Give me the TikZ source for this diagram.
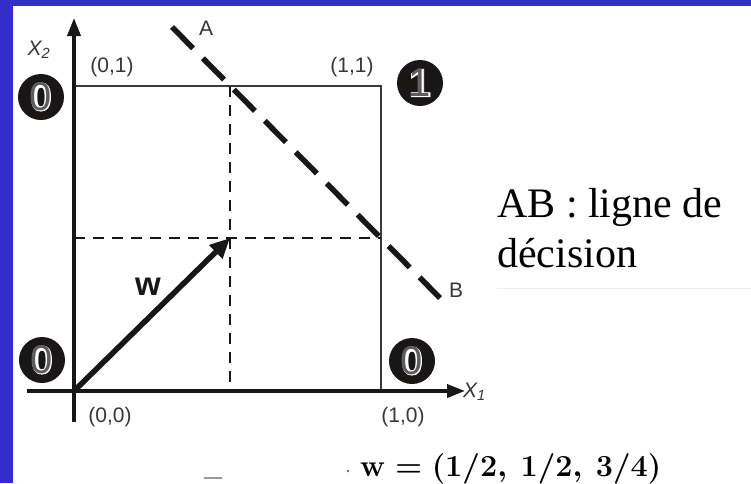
\documentclass[tikz,border=0pt]{standalone}
\usepackage[no-math]{fontspec}
\setmainfont{Liberation Serif}
\newfontfamily\arialf{Liberation Sans}
\newfontfamily\arialout[FakeBold=2]{Liberation Sans}
\usetikzlibrary{arrows.meta}
\definecolor{bandblue}{RGB}{51,45,204}
\definecolor{labgray}{RGB}{55,55,55}
\definecolor{inkblack}{RGB}{25,22,22}
\tikzset{
  axis/.style={line width=3.6pt, color=inkblack, -{Triangle[length=18pt,width=13pt]}},
  sqline/.style={line width=1.7pt, color=inkblack!85},
  dsh/.style={line width=2.4pt, color=inkblack, dash pattern=on 11pt off 8pt},
  abline/.style={line width=5.5pt, color=inkblack, dash pattern=on 30pt off 14pt},
  vec/.style={line width=5.5pt, color=inkblack, -{Triangle[length=20pt,width=18pt]}},
  coordlab/.style={font=\arialf\fontsize{21}{21}\selectfont, text=labgray, inner sep=0pt},
  axlab/.style={font=\arialf\itshape\fontsize{21}{21}\selectfont, text=labgray, inner sep=0pt},
  circbg/.style={circle, fill=inkblack, minimum size=46pt, inner sep=0pt},
  digw/.style={font=\arialout\bfseries\fontsize{40}{40}\selectfont, text=white, inner sep=0pt},
  digb/.style={font=\arialf\fontsize{40}{40}\selectfont, text=inkblack!70, inner sep=0pt},
  formula/.style={font=\fontsize{24.88}{30}\selectfont\mathversion{bold}, inner sep=0pt},
}
\newcommand{\circdig}[3]{%
  \node[circbg] (#1) at (#2) {};
  \node[digw] (#1w) at (#1.center) {#3};
  \node[digb] (#1b) at (#1.center) {#3};
}
\begin{document}
\begin{tikzpicture}[x=1pt,y=-1pt]
\fill[bandblue] (0,0) rectangle (751,483);
\fill[white] (13,6) rectangle (751,483);
\useasboundingbox (0,0) rectangle (751,483);
% key points
\coordinate (O) at (74,391);
\coordinate (P01) at (74,86);
\coordinate (P11) at (381,86);
\coordinate (P10) at (381,391);
\coordinate (M) at (230,238);
\coordinate (mt) at (230,86);
\coordinate (mb) at (230,391);
\coordinate (ml) at (74,238);
\coordinate (mr) at (381,238);
\coordinate (ybot) at (74,422);
\coordinate (ytip) at (74,18);
\coordinate (xleft) at (27,391);
\coordinate (xtip) at (465,391);
\coordinate (Apt) at (172,27);
\coordinate (Bpt) at (440,298);
% square
\draw[sqline] (P01) -- (P11) -- (P10);
% dashed guides
\draw[dsh] (mt) -- (mb);
\draw[dsh] (ml) -- (mr);
% axes
\draw[axis] (ybot) -- (ytip);
\draw[axis] (xleft) -- (xtip);
% decision line
\draw[abline] (Apt) -- (Bpt);
% vector
\draw[vec] (O) -- (M);
% labels
\node[axlab] (x2) at (39,50) {X\textsubscript{2}};
\node[axlab, anchor=west] (x1) at (463,392) {X\textsubscript{\itshape 1}};
\node[coordlab] (l01) at (112,67) {(0,1)};
\node[coordlab] (l11) at (352,67) {(1,1)};
\node[coordlab] (l00) at (110,417) {(0,0)};
\node[coordlab] (l10) at (403,417) {(1,0)};
\node[coordlab] (la) at (206,28) {A};
\node[coordlab] (lb) at (456,290) {B};
\node[font=\arialf\bfseries\fontsize{33}{33}\selectfont, text=inkblack, inner sep=0pt] (lw) at (148,287) {w};
% circled digits
\circdig{c01}{41,97}{0}
\circdig{c11}{420,83}{1}
\circdig{c00}{42,360}{0}
\circdig{c10}{412,361}{0}
% side text
\node[anchor=base west, inner sep=0pt, font=\fontsize{42}{50}\selectfont] (t1) at (497,217) {AB : ligne de};
\node[anchor=base west, inner sep=0pt, font=\fontsize{42}{50}\selectfont] (t2) at (497,267) {décision};
\coordinate (g1) at (497,288);
\coordinate (g2) at (751,288);
\draw[line width=1pt, color=black!7] (g1) -- (g2);
% formula
\coordinate (dot) at (348,471);
\fill[black!60] (dot) circle (1.3pt);
\node[formula, anchor=base west] (wf) at (360,476) {\scalebox{1.23}{$\mathbf{w} = (1/2,\ 1/2,\ 3/4)$}};
\coordinate (d1) at (204,478);
\coordinate (d2) at (222,478);
\draw[line width=1.6pt, color=black!40] (d1) -- (d2);
\end{tikzpicture}
\end{document}
